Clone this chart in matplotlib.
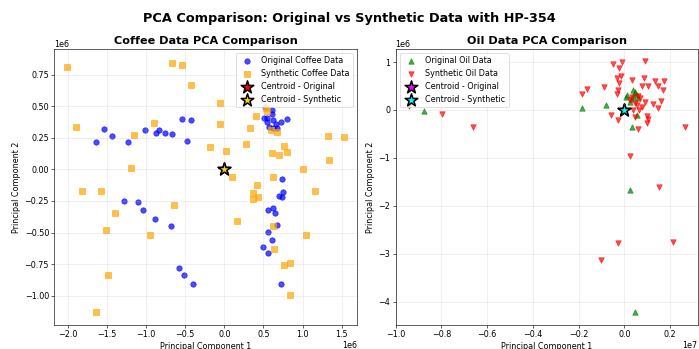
import matplotlib
matplotlib.use("Agg")
import matplotlib.pyplot as plt
import numpy as np

# ---------------- Coffee data (units of 1e6) ----------------
coffee_orig_x = [-1.637, -1.538, -1.432, -1.235, -1.009, -0.876, -0.833, -0.756, -0.675, -0.547,
                 -0.427, -0.474, -1.286, -1.107, -1.038, -0.889, -0.684, -0.585, -0.521, -0.406,
                 0.520, 0.508, 0.542, 0.550, 0.606, 0.619, 0.661, 0.729, 0.798, 0.575,
                 0.627, 0.670, 0.615,
                 0.734, 0.747, 0.703, 0.734, 0.563, 0.619, 0.648, 0.670, 0.555, 0.606,
                 0.499, 0.556, 0.722]
coffee_orig_y = [0.216, 0.318, 0.266, 0.216, 0.308, 0.289, 0.311, 0.284, 0.276, 0.395,
                 0.387, 0.224, -0.250, -0.258, -0.321, -0.389, -0.447, -0.784, -0.839, -0.908,
                 0.490, 0.408, 0.403, 0.377, 0.435, 0.390, 0.356, 0.377, 0.398, 0.337,
                 0.324, 0.329, 0.466,
                 -0.077, -0.177, -0.211, -0.217, -0.322, -0.309, -0.348, -0.440, -0.494, -0.559,
                 -0.612, -0.661, -0.905]

coffee_syn_x = [-2.009, -0.671, -0.543, -0.423, -1.902, -1.158, -0.897, -0.056, -0.051, -0.184,
                0.021, -1.188, -1.821, -1.581, -1.393, -0.650, -1.517, -0.949, -1.483, -1.637,
                0.098, 0.158, 0.405, 0.329, 0.277, 0.533, 0.550, 0.593, 0.678, 0.763,
                0.701, 0.607, 0.806, 1.325, 1.526, 1.333, 1.000, 1.162, 1.047, 0.620,
                0.415, 0.372, 0.372, 0.436, 0.628, 0.641, 0.769, 0.842, 0.842]
coffee_syn_y = [0.811, 0.845, 0.829, 0.671, 0.332, 0.268, 0.363, 0.521, 0.358, 0.174,
                0.147, 0.013, -0.171, -0.171, -0.342, -0.282, -0.479, -0.516, -0.834, -1.126,
                -0.058, -0.411, 0.424, 0.324, 0.198, 0.482, 0.465, 0.311, 0.298, 0.184,
                0.116, 0.132, 0.134, 0.261, 0.258, 0.071, 0.000, -0.171, -0.516, -0.058,
                -0.124, -0.184, -0.234, -0.221, -0.445, -0.632, -0.758, -0.742, -0.992]

coffee_centroid_orig = (0.0, 0.0)
coffee_centroid_syn = (0.0, 0.0)

# ---------------- Oil data (x in 1e7, y in 1e6) ----------------
oil_orig_x = [-0.875, -0.184, -0.080, 0.008, 0.013, 0.025, 0.037, 0.039, 0.047, 0.054,
              0.061, 0.045, 0.030, 0.054, 0.035, 0.025, 0.048]
oil_orig_y = [-0.02, 0.035, 0.10, 0.28, 0.31, 0.17, 0.28, 0.42, 0.38, 0.31,
              0.24, 0.35, 0.22, -0.10, -0.35, -1.66, -4.22]

oil_syn_x = [-0.940, -0.797, -0.663, 0.025, 0.153, -0.026, -0.103, 0.211, 0.265,
             -0.184, -0.165,
             -0.048, -0.011, -0.022, 0.091, -0.033, -0.016, 0.032, -0.087, -0.022, 0.086,
             0.076, 0.105, 0.134, 0.149, 0.174, 0.168, -0.033, -0.026, 0.032, 0.069,
             0.091, 0.124, 0.159, 0.149, 0.054, 0.076, 0.039, 0.066, 0.098, 0.105,
             0.101, -0.059, -0.026, 0.047, 0.059, 0.025, 0.045, 0.060]
oil_syn_y = [0.084, -0.091, -0.348, -0.955, -1.617, -2.767, -3.136, -2.746, -0.362,
             0.328, 0.446,
             0.954, 0.996, 0.883, 1.023, 0.662, 0.716, 0.626, 0.486, 0.557, 0.662,
             0.507, 0.507, 0.605, 0.507, 0.605, 0.418, 0.328, 0.418, 0.278, 0.244,
             0.173, 0.119, 0.188, 0.048, 0.104, 0.069, 0.000, 0.000, -0.125, -0.194,
             -0.278, -0.104, -0.209, -0.140, -0.403, 0.200, 0.150, 0.300]

oil_centroid_orig = (0.0, 0.0)
oil_centroid_syn = (0.0, 0.0)

W, H = 699, 349
DPI = 55
F = 1.05  # font scale
fig = plt.figure(figsize=(W / DPI, H / DPI), dpi=DPI)
plt.rcParams['xtick.labelsize'] = 10 * F
plt.rcParams['ytick.labelsize'] = 10 * F
plt.rcParams['axes.formatter.offset_threshold'] = 4

ax1 = fig.add_axes([54.4 / W, (H - 324.7) / H, 302.6 / W, (324.7 - 49) / H])
ax2 = fig.add_axes([395.5 / W, (H - 324.7) / H, 302.2 / W, (324.7 - 49) / H])

# Coffee
ax1.scatter(np.array(coffee_orig_x) * 1e6, np.array(coffee_orig_y) * 1e6, c='blue', alpha=0.7,
            s=50, marker='o', label='Original Coffee Data')
ax1.scatter(np.array(coffee_syn_x) * 1e6, np.array(coffee_syn_y) * 1e6, c='orange', alpha=0.7,
            s=50, marker='s', label='Synthetic Coffee Data')
ax1.scatter([coffee_centroid_orig[0]], [coffee_centroid_orig[1]], c='red', s=300, marker='*',
            edgecolors='black', linewidths=2, label='Centroid - Original')
ax1.scatter([coffee_centroid_syn[0]], [coffee_centroid_syn[1]], c='gold', s=300, marker='*',
            edgecolors='black', linewidths=2, label='Centroid - Synthetic')
ax1.set_title('Coffee Data PCA Comparison', fontsize=14 * F, fontweight='bold')
ax1.set_xlabel('Principal Component 1', fontsize=10 * F)
ax1.set_ylabel('Principal Component 2', fontsize=10 * F)
ax1.legend(loc='upper right', fontsize=10 * F)
ax1.grid(True, alpha=0.3)
ax1.set_xlim(-2.174e6, 1.697e6)
ax1.set_ylim(-1.229e6, 0.952e6)
ax1.xaxis.get_offset_text().set_fontsize(10 * F)
ax1.yaxis.get_offset_text().set_fontsize(10 * F)

# Oil
ax2.scatter(np.array(oil_orig_x) * 1e7, np.array(oil_orig_y) * 1e6, c='green', alpha=0.7,
            s=50, marker='^', label='Original Oil Data')
ax2.scatter(np.array(oil_syn_x) * 1e7, np.array(oil_syn_y) * 1e6, c='red', alpha=0.7,
            s=50, marker='v', label='Synthetic Oil Data')
ax2.scatter([oil_centroid_orig[0]], [oil_centroid_orig[1]], c='magenta', s=300, marker='*',
            edgecolors='black', linewidths=2, label='Centroid - Original')
ax2.scatter([oil_centroid_syn[0]], [oil_centroid_syn[1]], c='cyan', s=300, marker='*',
            edgecolors='black', linewidths=2, label='Centroid - Synthetic')
ax2.set_title('Oil Data PCA Comparison', fontsize=14 * F, fontweight='bold')
ax2.set_xlabel('Principal Component 1', fontsize=10 * F)
ax2.set_ylabel('Principal Component 2', fontsize=10 * F)
ax2.legend(loc='upper left', fontsize=10 * F)
ax2.grid(True, alpha=0.3)
ax2.set_xlim(-1.0004e7, 0.321e7)
ax2.set_ylim(-4.482e6, 1.273e6)
ax2.xaxis.get_offset_text().set_fontsize(10 * F)
ax2.yaxis.get_offset_text().set_fontsize(10 * F)

fig.suptitle('PCA Comparison: Original vs Synthetic Data with HP-354', fontsize=16 * F,
             fontweight='bold', y=1 - 18.5 / H, va='center')

fig.savefig('out.png', dpi=DPI)
